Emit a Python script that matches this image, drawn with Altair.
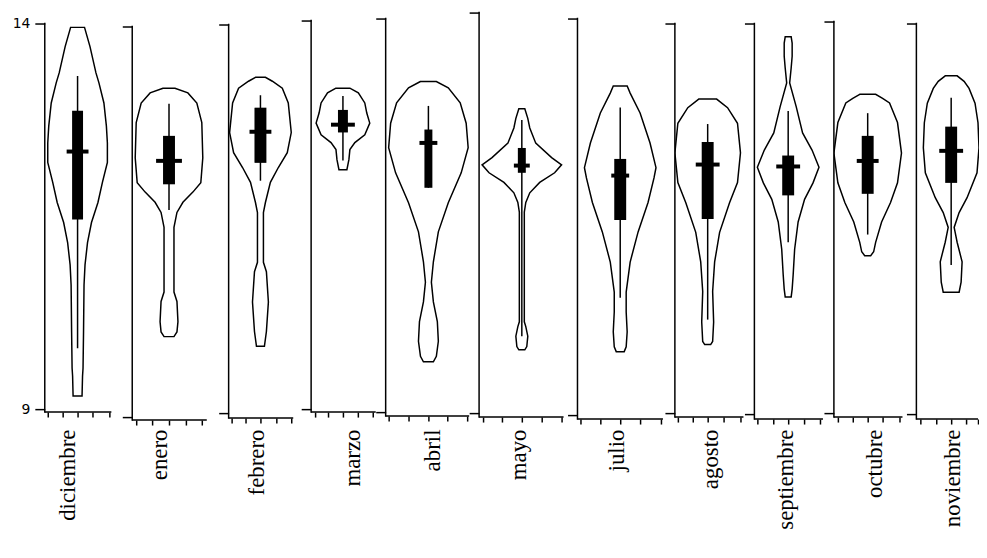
import altair as alt
import pandas as pd

months = ["diciembre", "enero", "febrero", "marzo", "abril", "mayo",
          "julio", "agosto", "septiembre", "octubre", "noviembre"]

# violin outlines: value levels (top to bottom) and half-widths (density)
dic_v = [13.95, 13.70, 13.36, 13.23, 12.97, 12.67, 12.45, 12.20, 11.94, 11.68, 11.42, 11.16, 10.87, 10.61, 10.0, 9.53, 9.43, 9.17]
dic_w = [7, 12.5, 18.5, 21.5, 26.5, 29, 30, 30, 25, 20.5, 14, 10, 7.5, 6.5, 6, 5.5, 5, 4.5]
ene_v = [13.21, 13.15, 13.02, 12.77, 12.32, 12.00, 11.88, 11.75, 11.62, 11.43, 10.60, 10.48, 10.22, 10.09, 10.03]
ene_w = [6, 19, 28, 33, 34, 32, 24, 14, 8, 5, 5, 8, 9, 8, 5]
feb_v = [13.32, 13.27, 13.18, 12.99, 12.61, 12.35, 12.16, 11.97, 11.71, 11.58, 10.94, 10.82, 10.43, 10.05, 9.86]
feb_w = [5, 12, 22, 28, 31, 27, 18, 10, 5, 3, 3, 6, 8, 6, 4]
mar_v = [13.13, 13.07, 12.94, 12.81, 12.68, 12.53, 12.43, 12.34, 12.21, 12.08]
mar_w = [7, 15.5, 22, 24, 27, 22, 12, 7, 6, 4]
abr_v = [13.20, 13.12, 12.93, 12.67, 12.36, 12.04, 11.66, 11.29, 10.91, 10.65, 10.40, 10.15, 9.90, 9.71, 9.64]
abr_w = [8, 20, 32, 38, 40, 33, 20, 10, 5, 3, 5, 9, 10, 8, 5]
may_v = [12.80, 12.68, 12.56, 12.37, 12.19, 12.10, 12.00, 11.88, 11.75, 11.63, 11.51, 10.14, 10.08, 9.96, 9.83, 9.79]
may_w = [3, 6, 8, 14, 30, 40, 33, 18, 8, 4, 2.5, 2.5, 4, 6, 5, 3]
jul_v = [13.15, 13.06, 12.81, 12.43, 12.12, 11.99, 11.68, 11.31, 10.93, 10.55, 10.30, 10.05, 9.86, 9.80]
jul_w = [7, 10, 20, 30, 36, 34, 28, 18, 10, 6, 6, 7, 6, 4]
ago_v = [13.03, 12.92, 12.72, 12.34, 11.96, 11.70, 11.32, 10.94, 10.56, 10.17, 9.92, 9.88]
ago_w = [9, 20, 30, 33, 30, 22, 12, 7, 5, 6, 5, 3]
sep_v = [13.83, 13.75, 13.58, 13.43, 13.24, 12.94, 12.60, 12.38, 12.16, 11.96, 11.75, 11.46, 11.11, 10.78, 10.60, 10.50]
sep_w = [3, 4, 4, 3, 1.5, 8, 14.5, 24, 31, 25, 16.5, 10, 6.5, 5, 4, 3]
oct_v = [13.07, 13.02, 12.96, 12.71, 12.32, 11.94, 11.69, 11.44, 11.18, 11.06, 11.01]
oct_w = [8, 15, 22, 30, 34, 30, 23, 14, 8, 6, 3]
nov_v = [13.33, 13.26, 13.17, 12.98, 12.73, 12.41, 12.09, 11.77, 11.58, 11.39, 11.20, 10.95, 10.69, 10.56]
nov_w = [6, 13, 18, 24, 27, 28, 26, 16, 8, 3, 6, 11, 10, 8]

profiles = [(dic_v, dic_w), (ene_v, ene_w), (feb_v, feb_w), (mar_v, mar_w), (abr_v, abr_w),
            (may_v, may_w), (jul_v, jul_w), (ago_v, ago_w), (sep_v, sep_w), (oct_v, oct_w),
            (nov_v, nov_w)]

# box statistics
q1 = [11.46, 11.98, 12.22, 12.56, 11.85, 12.00, 11.46, 11.49, 11.80, 11.80, 11.96]
q3 = [12.87, 12.60, 12.93, 12.85, 12.59, 12.31, 12.23, 12.48, 12.31, 12.54, 12.68]
med = [12.34, 12.28, 12.62, 12.66, 12.42, 12.09, 12.02, 12.19, 12.17, 12.22, 12.37]
wlo = [9.79, 11.65, 11.99, 12.20, 11.85, 9.96, 10.48, 10.20, 11.20, 11.28, 10.91]
whi = [13.32, 13.01, 13.09, 13.03, 12.89, 12.66, 12.88, 12.71, 12.88, 12.83, 13.05]

# ---- layout (pixel geometry of each panel, page coordinates) ----
axis_x = [45, 133, 230, 313, 388, 482, 581, 679, 759, 839, 922]
center_x = [78, 170, 262, 345, 431, 525, 624, 712, 793, 873, 957]
right_x = [112, 208, 295, 378, 472, 567, 667, 748, 828, 908, 984]
y14 = [20, 23, 21, 17, 15, 9, 15, 20, 20, 18, 20]
y9 = [408, 416, 412, 408, 411, 412, 414, 412, 413, 412, 413]
ybot = [411, 419, 417, 411, 415, 416, 418, 416, 418, 416, 418]
ticks_px = [[48, 63, 78, 93, 110], [137, 153, 170, 187, 203], [233, 247, 262, 278, 293],
            [317, 330, 345, 360, 375], [391, 411, 431, 450, 470], [486, 505, 525, 545, 565],
            [584, 604, 624, 644, 665], [682, 697, 712, 728, 745], [762, 778, 793, 809, 825],
            [843, 858, 873, 888, 905], [926, 942, 957, 972, 984]]
label_cx = [68, 160, 258, 355, 435, 522, 620, 715, 790, 880, 958]
box_hw = [5.5, 6, 6, 5, 4, 4, 6, 6, 6, 6, 6]
bar_hw = [11, 13, 11, 12, 9, 8, 9, 12, 12, 11, 12]
TOP = 9
LABEL_TOP = 428


def panel(i):
    H = ybot[i] - TOP
    k = (y9[i] - y14[i]) / 5.0
    hi = 14 + (y14[i] - TOP) / k
    lo = 9 - (ybot[i] - y9[i]) / k
    xmin = axis_x[i] - center_x[i]
    W = (axis_x[i + 1] - axis_x[i]) if i < len(axis_x) - 1 else (right_x[i] - axis_x[i] + 1)
    xmax = xmin + W
    xend = right_x[i] - center_x[i]
    ys = alt.Scale(domain=[lo, hi], nice=False, zero=False)
    xs = alt.Scale(domain=[xmin, xmax], nice=False, zero=False)
    xaxis = alt.Axis(values=[t - center_x[i] for t in ticks_px[i]], labels=False, domain=False,
                     grid=False, tickSize=5, tickWidth=1.5, tickColor="black",
                     title=months[i], titleAngle=270, titleAlign="right", titleBaseline="middle",
                     titleFont="Liberation Serif", titleFontSize=23, titleFontWeight="normal",
                     titleColor="black", titleX=label_cx[i] - axis_x[i], titleY=LABEL_TOP - ybot[i])
    yaxis = alt.Axis(values=[9, 14], labels=(i == 0), domain=False, grid=False, tickSize=10,
                     tickWidth=1.5, tickColor="black", labelFont="DejaVu Sans", labelFontSize=14,
                     labelColor="black", labelPadding=5, title=None)

    vdf = pd.DataFrame({"v": profiles[i][0], "hw": profiles[i][1]})
    violin = alt.Chart(vdf).transform_calculate(xl="-datum.hw", xr="datum.hw").mark_area(
        orient="horizontal", fill="white", stroke="black", strokeWidth=1.5, clip=True
    ).encode(
        y=alt.Y("v:Q", scale=ys, axis=yaxis),
        x=alt.X("xl:Q", scale=xs, axis=xaxis),
        x2="xr:Q",
    )

    sdf = pd.DataFrame({"q1": [q1[i]], "q3": [q3[i]], "med": [med[i]],
                        "wlo": [wlo[i]], "whi": [whi[i]]})
    whisker = alt.Chart(sdf).transform_calculate(xc="0").mark_rule(
        color="black", strokeWidth=1.5
    ).encode(
        x=alt.X("xc:Q", scale=xs, axis=xaxis),
        y=alt.Y("wlo:Q", scale=ys, axis=yaxis),
        y2="whi:Q",
    )
    box = alt.Chart(sdf).transform_calculate(xl=f"-{box_hw[i]}", xr=f"{box_hw[i]}").mark_rect(
        color="black"
    ).encode(
        x=alt.X("xl:Q", scale=xs, axis=xaxis),
        x2="xr:Q",
        y=alt.Y("q1:Q", scale=ys, axis=yaxis),
        y2="q3:Q",
    )
    bar = alt.Chart(sdf).transform_calculate(xl=f"-{bar_hw[i]}", xr=f"{bar_hw[i]}").mark_rule(
        color="black", strokeWidth=4
    ).encode(
        x=alt.X("xl:Q", scale=xs, axis=xaxis),
        x2="xr:Q",
        y=alt.Y("med:Q", scale=ys, axis=yaxis),
    )
    adf = pd.DataFrame({"v": [14], "xl": [xmin], "xr": [xend]})
    yline = alt.Chart(adf).mark_rule(color="black", strokeWidth=1.5, strokeCap="square").encode(
        x=alt.value(0),
        y=alt.Y("v:Q", scale=ys, axis=yaxis),
        y2=alt.value(H),
    )
    xline = alt.Chart(adf).mark_rule(color="black", strokeWidth=1.5, strokeCap="butt").encode(
        x=alt.X("xl:Q", scale=xs, axis=xaxis),
        x2="xr:Q",
        y=alt.value(H),
    )
    return alt.layer(violin, whisker, box, bar, yline, xline).properties(width=W, height=H)


chart = alt.hconcat(*[panel(i) for i in range(len(months))], spacing=0, bounds="flush").properties(
    padding={"left": 4, "top": 1, "right": 0, "bottom": 0}
).configure(background="white").configure_view(stroke=None, strokeWidth=0)

chart.save("out.html", embed_options={"renderer": "svg", "actions": False})
